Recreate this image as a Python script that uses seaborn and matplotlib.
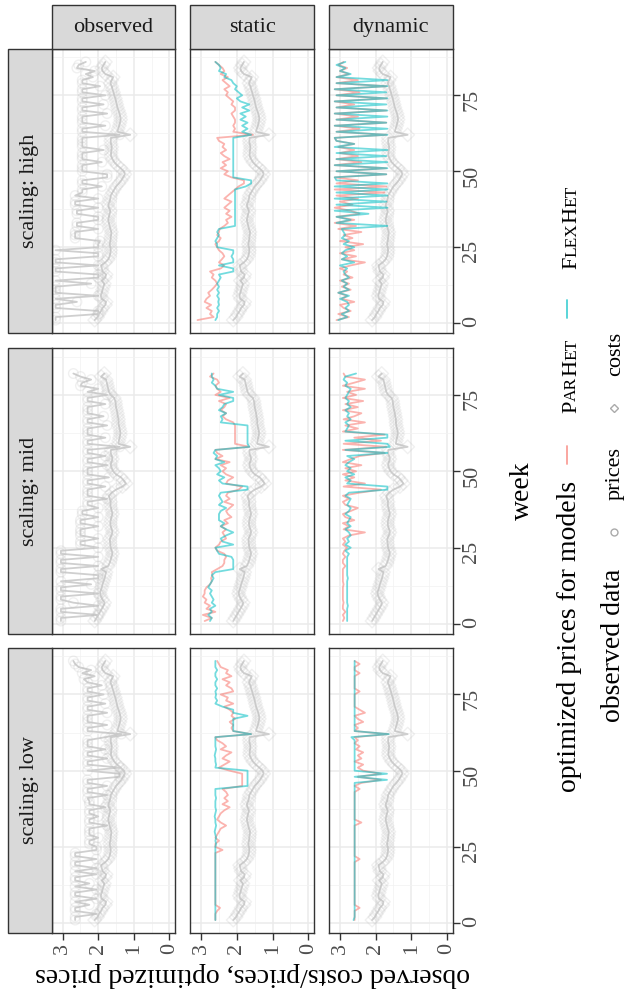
import numpy as np
import pandas as pd
import matplotlib
matplotlib.use("Agg")
import matplotlib.pyplot as plt
import seaborn as sns
from matplotlib.lines import Line2D
from matplotlib.patches import Rectangle

sns.set_theme(style="white")
plt.rcParams["font.family"] = ["Liberation Serif", "DejaVu Serif"]

# ---------------- data ----------------
weeks_high = list(range(1, 87))
weeks_mid = list(range(1, 83))
weeks_low = list(range(1, 87))

costs_high = [2.10, 2.02, 1.98, 1.92, 1.88, 1.80, 1.78, 1.90, 1.93, 1.90,
              1.88, 1.85, 1.83, 1.90, 1.80, 1.78, 1.88, 1.90, 1.92, 1.80,
              1.72, 1.68, 1.66, 1.65, 1.66, 1.68, 1.66, 1.65, 1.64, 1.63,
              1.66, 1.68, 1.70, 1.72, 1.70, 1.68, 1.66, 1.70, 1.72, 1.68,
              1.66, 1.65, 1.60, 1.55, 1.50, 1.42, 1.35, 1.30, 1.25, 1.28,
              1.37, 1.47, 1.55, 1.60, 1.64, 1.64, 1.63, 1.62, 1.64, 1.65,
              1.64, 1.10, 1.46, 1.44, 1.41, 1.39, 1.37, 1.38, 1.40, 1.43,
              1.46, 1.48, 1.50, 1.52, 1.55, 1.57, 1.60, 1.62, 1.66, 1.62,
              1.58, 1.80, 1.88, 1.90, 1.85, 1.80]
costs_low = costs_high
costs_mid = [2.10, 2.05, 2.00, 1.95, 1.90, 1.85, 1.82, 1.88, 1.92, 1.95,
             1.93, 1.90, 1.88, 1.85, 1.82, 1.80, 1.78, 1.92, 1.72, 1.68,
             1.65, 1.63, 1.60, 1.62, 1.65, 1.66, 1.67, 1.67, 1.63, 1.60,
             1.62, 1.65, 1.66, 1.65, 1.63, 1.60, 1.62, 1.64, 1.66, 1.65,
             1.68, 1.70, 1.62, 1.50, 1.32, 1.22, 1.28, 1.36, 1.50, 1.58,
             1.62, 1.65, 1.63, 1.60, 1.62, 1.65, 1.64, 1.10, 1.43, 1.42,
             1.40, 1.38, 1.38, 1.40, 1.42, 1.43, 1.43, 1.45, 1.46, 1.48,
             1.50, 1.51, 1.52, 1.55, 1.65, 1.70, 1.72, 1.74, 1.76, 1.78,
             1.92, 1.83]

prices_high = [3.2, 3.2, 2.0, 2.0, 3.2, 3.2, 2.6, 3.2, 2.0, 3.2,
               3.2, 3.2, 2.2, 3.2, 2.0, 2.0, 3.2, 3.2, 2.0, 3.2,
               3.2, 2.0, 2.0, 3.2, 2.0,
               2.0, 1.95, 2.65, 2.65, 2.65, 2.0, 2.6, 2.6, 2.0, 2.0,
               2.6, 2.6, 2.0, 2.65, 2.65, 2.0, 2.65,
               2.45, 2.45, 1.9, 2.45, 2.45, 1.75, 1.75, 2.45, 2.45, 2.45,
               1.9, 2.45, 2.45, 2.45, 1.85, 2.45, 2.45, 2.45, 2.45, 1.4,
               2.45, 2.45, 1.8, 2.45, 2.45, 2.45, 1.75, 2.45, 2.45, 1.85,
               2.45, 2.45, 1.8, 2.45, 2.45, 1.95, 2.45, 2.45, 2.15, 2.35,
               2.1, 2.6, 2.55, 2.35]
prices_mid = [3.05, 3.05, 2.0, 3.05, 3.05, 2.0, 2.7, 3.05, 3.05, 2.0,
              3.05, 3.05, 2.2, 3.05, 2.0, 2.0, 3.05, 3.05, 2.0, 3.05,
              3.05, 2.0, 3.05, 3.05,
              2.0, 2.5, 2.5, 2.0, 2.5, 2.5, 2.5, 2.0, 2.5, 2.5,
              2.0, 2.45, 2.45, 2.0, 2.3, 2.3,
              1.75, 2.3, 2.3, 2.3, 1.8, 2.3, 2.3, 1.7, 2.3, 2.3,
              2.3, 1.75, 2.3, 2.3, 1.8, 2.3, 2.3,
              1.4,
              2.3, 2.3, 1.8, 2.3, 2.3, 2.3, 1.75, 2.3, 2.3, 1.85,
              2.3, 2.3, 2.3, 1.8, 2.3, 2.3, 1.75, 2.3, 2.0, 2.5,
              2.45, 2.2, 2.5, 2.7]
prices_low = [2.65, 2.65, 2.05, 2.65, 2.65, 2.25, 2.65, 2.05, 2.65, 2.65,
              2.05, 2.65, 2.25, 2.65, 2.65, 2.05, 2.65, 2.05, 2.65, 2.65,
              2.05, 2.65, 2.65, 2.05, 2.05,
              2.25, 2.25, 2.0, 2.25, 2.25, 2.25, 1.75, 2.25, 2.25, 2.0,
              2.25, 2.25, 1.8, 2.25, 2.25, 2.3, 1.75, 2.3, 2.3, 1.75,
              2.3, 2.3, 1.4, 1.4, 2.3, 1.4, 2.3, 2.3, 1.75, 2.3,
              2.3, 1.8, 2.3, 2.3, 2.3, 1.8,
              1.35,
              2.3, 2.3, 1.75, 2.3, 2.3, 2.3, 1.75, 2.3, 2.3, 1.8,
              2.3, 2.3, 1.85, 2.3, 2.3, 1.9, 2.3, 2.4, 2.1, 2.45,
              2.2, 2.55, 2.65, 2.7]

static_par_high = [3.1, 2.65, 2.75, 2.7, 2.85, 2.72, 2.9, 2.85, 2.75, 2.8,
                   2.7, 2.62, 2.55, 2.6, 2.7, 2.65, 2.75, 2.45, 2.35, 2.5,
                   2.42, 2.35, 2.4, 2.5, 2.55, 2.6, 2.5, 2.45, 2.55, 2.5,
                   2.48, 2.35, 2.25, 2.3, 2.15, 2.3, 2.2, 2.35, 2.25, 2.15,
                   2.35, 2.25, 2.15, 2.05, 1.95, 1.8, 1.8, 2.15, 2.35, 2.25,
                   2.45, 2.3, 2.4, 2.2, 2.35, 2.45, 2.3, 2.4, 2.35, 2.5,
                   2.55, 1.55, 2.1, 2.05, 2.1, 2.05, 2.05, 2.1, 2.15, 2.05,
                   2.05, 2.15, 2.1, 2.2, 2.3, 2.25, 2.35, 2.2, 2.3, 2.4,
                   2.25, 2.45, 2.35, 2.4, 2.5, 2.6]
static_flex_high = [2.6, 2.55, 2.55, 2.5, 2.55, 2.5, 2.52, 2.5, 2.55, 2.5,
                    2.55, 2.5, 2.55, 2.5, 2.45, 2.5, 2.1, 2.1, 2.5, 2.1,
                    2.1, 2.15, 2.1, 2.1, 2.55, 2.55, 2.6, 2.55, 2.5, 2.55,
                    2.5, 2.05, 2.05, 2.05, 2.05, 2.05, 2.05, 2.05, 2.05, 2.05,
                    2.05, 2.05, 2.05, 2.05, 1.75, 1.6, 1.6, 2.1, 2.1, 2.1,
                    2.1, 2.1, 2.1, 2.1, 2.1, 2.1, 2.1, 2.1, 2.1, 2.1,
                    2.1, 1.6, 1.85, 1.7, 1.85, 1.7, 1.9, 1.75, 1.9, 1.65,
                    1.85, 1.65, 1.9, 2.0, 1.85, 1.95, 2.05, 2.0, 2.1, 2.15,
                    2.35, 2.3, 2.5, 2.45, 2.5, 2.6]
dyn_par_high = [3.1, 2.75, 3.05, 2.7, 2.9, 3.0, 2.6, 2.95, 2.8, 3.05,
                2.7, 2.95, 2.75, 3.0, 2.65, 2.9, 2.8, 3.0, 2.7, 2.3,
                2.95, 2.55, 3.0, 2.6, 2.85, 2.35, 3.0, 2.65, 2.9, 2.4,
                3.05, 2.55, 3.15, 2.6, 3.1, 2.45, 2.7, 3.15, 2.65, 3.0,
                2.5, 3.1, 1.75, 3.15, 1.7, 3.1, 2.5, 3.15, 1.7, 3.1,
                1.7, 3.15, 2.4, 3.1, 2.5, 3.0, 2.6, 3.05, 2.6, 3.1,
                3.15, 1.7, 3.1, 2.45, 3.15, 1.7, 3.1, 2.5, 3.15, 1.7,
                3.1, 2.6, 3.15, 1.7, 3.1, 2.45, 3.15, 1.7, 3.1, 2.5,
                3.1, 2.75, 3.0, 2.8, 3.05, 2.9]
dyn_flex_high = [3.05, 2.8, 2.95, 2.75, 2.85, 2.75, 2.8, 3.0, 2.75, 3.05,
                 2.75, 2.9, 2.8, 2.95, 2.75, 2.85, 2.9, 2.8, 3.0, 2.6,
                 2.95, 2.8, 2.95, 2.85, 2.6, 2.9, 2.75, 2.95, 2.85, 2.9,
                 2.95, 1.67, 3.1, 2.7, 3.1, 2.2, 3.15, 1.67, 3.1, 1.7,
                 3.15, 1.67, 3.1, 1.67, 3.15, 1.67, 3.1, 3.15, 1.7, 3.1,
                 1.67, 3.15, 1.67, 3.1, 1.7, 3.1, 1.67, 3.15, 2.6, 3.1,
                 3.15, 1.67, 3.1, 1.67, 3.15, 1.7, 3.1, 1.67, 3.15, 1.67,
                 3.1, 1.7, 3.15, 1.67, 3.1, 1.7, 3.15, 1.67, 3.1, 1.67,
                 3.1, 2.7, 3.0, 2.85, 3.1, 2.85]

static_par_mid = [2.9, 2.7, 2.95, 2.6, 2.85, 2.75, 2.9, 2.85, 2.95, 2.9,
                  2.9, 2.85, 2.75, 2.7, 2.72, 2.68, 2.7, 2.55, 2.4, 2.35,
                  2.35, 2.3, 2.35, 2.55, 2.6, 2.5, 2.45, 2.3, 2.35, 2.4,
                  2.3, 2.45, 2.25, 2.35, 2.15, 2.25, 2.3, 2.2, 2.1, 2.35,
                  2.2, 2.3, 2.25, 1.95, 1.85, 2.3, 2.25, 2.1, 2.3, 2.4,
                  2.3, 2.45, 2.2, 2.6, 2.4, 2.55, 2.6, 1.65, 2.05, 2.05,
                  2.05, 2.05, 2.05, 2.05, 2.05, 2.1, 2.3, 2.4, 2.3, 2.45,
                  2.35, 2.3, 2.5, 2.2, 2.6, 2.45, 2.55, 2.6, 2.5, 2.55,
                  2.75, 2.65]
static_flex_mid = [2.75, 2.7, 2.8, 2.7, 2.75, 2.6, 2.7, 2.65, 2.7, 2.75,
                   2.7, 2.8, 2.75, 2.7, 2.65, 2.7, 2.6, 2.1, 2.1, 2.1,
                   2.1, 2.15, 2.5, 2.55, 2.6, 2.1, 2.4, 2.45, 2.3, 2.1,
                   2.3, 2.45, 2.35, 2.5, 2.5, 2.5, 2.45, 2.3, 2.5, 2.4,
                   2.45, 2.5, 2.45, 1.7, 1.7, 2.4, 2.5, 2.35, 2.55, 2.45,
                   2.5, 2.6, 2.35, 2.6, 2.55, 2.65, 2.6, 1.65, 1.7, 1.7,
                   1.7, 1.7, 1.7, 1.7, 1.7, 2.45, 2.4, 2.45, 2.3, 2.5,
                   2.4, 2.35, 2.1, 2.1, 2.5, 2.1, 2.55, 2.6, 2.7, 2.65,
                   2.7, 2.7]
dyn_par_mid = [2.92, 2.88, 2.92, 2.85, 2.92, 2.92, 2.9, 2.92, 2.92, 2.92,
               2.92, 2.92, 2.9, 2.92, 2.92, 2.92, 2.92, 2.92, 2.85, 2.92,
               2.92, 2.85, 2.92, 2.88, 2.8, 2.92, 2.85, 2.92, 2.75, 2.3,
               2.9, 2.75, 2.92, 2.6, 2.85, 2.92, 2.7, 2.5, 2.85, 2.92,
               2.75, 2.92, 2.45, 1.85, 2.9, 2.3, 2.85, 2.6, 2.92, 2.55,
               2.85, 2.4, 2.92, 2.7, 2.45, 1.75, 2.92, 1.7, 2.9, 1.85,
               2.6, 1.75, 2.92, 2.5, 2.85, 2.3, 2.9, 2.6, 2.4, 2.92,
               2.5, 2.85, 2.35, 2.92, 2.55, 2.8, 2.3, 2.92, 2.6, 2.3,
               2.85, 2.9]
dyn_flex_mid = [2.8, 2.8, 2.8, 2.8, 2.8, 2.78, 2.8, 2.8, 2.8, 2.8,
                2.8, 2.8, 2.8, 2.8, 2.78, 2.8, 2.8, 2.8, 2.8, 2.8,
                2.8, 2.8, 2.75, 2.85, 2.7, 2.85, 2.75, 2.8, 2.7, 2.75,
                2.85, 2.7, 2.8, 2.75, 2.7, 2.85, 2.75, 2.7, 2.8, 2.75,
                2.7, 2.85, 2.75, 1.67, 1.67, 2.8, 2.7, 2.85, 2.6, 2.8,
                2.7, 2.85, 2.75, 2.6, 2.8, 1.67, 2.85, 1.6, 1.67, 2.85,
                1.67, 1.67, 2.85, 2.8, 2.75, 2.85, 2.7, 2.8, 2.75, 2.85,
                2.7, 2.8, 2.75, 2.85, 2.8, 2.75, 2.7, 2.85, 2.8, 2.9,
                2.85, 2.55]

static_par_low = [2.6, 2.6, 2.6, 2.55, 2.47, 2.6, 2.6, 2.6, 2.6, 2.6,
                  2.6, 2.6, 2.6, 2.6, 2.6, 2.6, 2.6, 2.6, 2.6, 2.6,
                  2.6, 2.6, 2.6, 2.4, 2.6, 2.6, 2.5, 2.6, 2.55, 2.5,
                  2.45, 2.3, 2.45, 2.55, 2.5, 2.45, 2.35, 2.2, 2.4, 2.25,
                  2.35, 2.25, 2.3, 2.4, 1.85, 1.85, 1.85, 1.85, 1.85, 2.2,
                  2.5, 2.35, 2.2, 2.4, 2.3, 2.15, 2.45, 2.3, 2.4, 2.55,
                  2.6, 1.6, 2.1, 2.15, 2.1, 2.2, 2.05, 2.15, 2.1, 2.2,
                  2.35, 2.1, 2.3, 2.25, 2.45, 2.1, 2.15, 2.3, 2.2, 2.4,
                  2.15, 2.3, 2.25, 2.45, 2.5, 2.55]
static_flex_low = [2.6, 2.6, 2.6, 2.6, 2.6, 2.6, 2.6, 2.6, 2.6, 2.6,
                   2.6, 2.6, 2.6, 2.6, 2.6, 2.6, 2.6, 2.6, 2.6, 2.6,
                   2.6, 2.6, 2.6, 2.6, 2.6, 2.58, 2.6, 2.58, 2.6, 2.62,
                   2.6, 2.58, 2.6, 2.6, 2.62, 2.6, 2.58, 2.6, 2.6, 2.6,
                   2.58, 2.6, 2.6, 2.6, 1.7, 1.7, 1.7, 1.7, 1.7, 1.7,
                   2.6, 2.58, 2.6, 2.6, 2.62, 2.6, 2.58, 2.6, 2.6, 2.6,
                   2.6, 1.6, 2.1, 2.1, 2.1, 2.1, 2.1, 1.7, 2.1, 2.1,
                   2.4, 2.6, 2.55, 2.6, 2.58, 2.6, 2.55, 2.6, 2.6, 2.55,
                   2.6, 2.6, 2.55, 2.6, 2.6, 2.6]
dyn_par_low = [2.59, 2.59, 2.59, 2.59, 2.45, 2.59, 2.59, 2.59, 2.59, 2.59,
               2.59, 2.59, 2.59, 2.59, 2.59, 2.59, 2.59, 2.59, 2.59, 2.59,
               2.45, 2.59, 2.59, 2.59, 2.59, 2.59, 2.59, 2.59, 2.59, 2.59,
               2.59, 2.59, 2.4, 2.59, 2.59, 2.59, 2.59, 2.59, 2.59, 2.59,
               2.59, 2.59, 2.59, 2.45, 2.59, 2.4, 1.85, 2.5, 1.85, 2.35,
               2.5, 2.35, 2.59, 2.4, 2.5, 2.35, 2.55, 2.45, 2.59, 2.5,
               2.59, 1.65, 2.59, 2.5, 2.59, 2.35, 2.5, 2.59, 2.3, 2.45,
               2.59, 2.59, 2.59, 2.59, 2.59, 2.45, 2.59, 2.59, 2.59, 2.59,
               2.59, 2.45, 2.59, 2.59, 2.45, 2.59]
dyn_flex_low = [2.62, 2.59, 2.59, 2.59, 2.59, 2.59, 2.59, 2.59, 2.59, 2.59,
                2.59, 2.59, 2.59, 2.59, 2.59, 2.59, 2.59, 2.59, 2.59, 2.59,
                2.59, 2.59, 2.59, 2.59, 2.59, 2.59, 2.59, 2.59, 2.59, 2.59,
                2.59, 2.59, 2.59, 2.59, 2.59, 2.59, 2.59, 2.59, 2.59, 2.59,
                2.59, 2.59, 2.59, 2.59, 2.59, 2.59, 1.68, 2.59, 1.68, 2.59,
                2.59, 2.59, 2.59, 2.59, 2.59, 2.59, 2.59, 2.59, 2.59, 2.59,
                2.68, 1.63, 2.59, 2.59, 2.59, 2.59, 2.59, 2.59, 2.59, 2.59,
                2.59, 2.59, 2.59, 2.59, 2.59, 2.59, 2.59, 2.59, 2.59, 2.59,
                2.59, 2.59, 2.59, 2.59, 2.59, 2.59]

scalings = ["high", "mid", "low"]
columns = ["observed", "static", "dynamic"]
strip_rows = ["scaling: high", "scaling: mid", "scaling: low"]
price_ticks = [0, 1, 2, 3]
week_ticks = [0, 25, 50, 75]

data = {
    "high": dict(weeks=weeks_high, costs=costs_high, prices=prices_high,
                 static=(static_par_high, static_flex_high),
                 dynamic=(dyn_par_high, dyn_flex_high)),
    "mid": dict(weeks=weeks_mid, costs=costs_mid, prices=prices_mid,
                static=(static_par_mid, static_flex_mid),
                dynamic=(dyn_par_mid, dyn_flex_mid)),
    "low": dict(weeks=weeks_low, costs=costs_low, prices=prices_low,
                static=(static_par_low, static_flex_low),
                dynamic=(dyn_par_low, dyn_flex_low)),
}

# ---------------- style ----------------
W, H = 627, 997
RED = "#F8766D"
CYAN = "#00BFC4"
GREY_LINE = "#CFCFCF"
GREY_PT = "#BDBDBD"
BORDER = "#333333"
TICKC = "#4D4D4D"

fig = plt.figure(figsize=(W / 100, H / 100), dpi=100)
fig.patch.set_facecolor("white")

col_x = [(51.7, 175.0), (190.0, 314.0), (329.0, 452.5)]
row_y = [(49.0, 333.0), (348.3, 634.0), (648.0, 933.0)]


def frac(x0, y0, x1, y1):
    return [x0 / W, 1 - y1 / H, (x1 - x0) / W, (y1 - y0) / H]


def obs_series(ax, weeks, vals, marker):
    df = pd.DataFrame({"week": weeks, "price": vals})
    sns.lineplot(data=df, x="price", y="week", orient="y", sort=True,
                 estimator=None, color=GREY_LINE, lw=1.3, ax=ax, zorder=2)
    sns.scatterplot(data=df, x="price", y="week", marker=marker, s=48,
                    facecolors="none", edgecolor=GREY_PT, linewidth=1.0,
                    alpha=0.22, ax=ax, zorder=2)


for r, sc in enumerate(scalings):
    d = data[sc]
    for c, col in enumerate(columns):
        x0, x1 = col_x[c]
        y0, y1 = row_y[r]
        ax = fig.add_axes(frac(x0, y0, x1, y1))
        ax.set_facecolor("white")
        if col == "observed":
            obs_series(ax, d["weeks"], d["prices"], "o")
            obs_series(ax, d["weeks"], d["costs"], "D")
        else:
            obs_series(ax, d["weeks"], d["costs"], "D")
            par, flex = d[col]
            dfm = pd.DataFrame({"week": d["weeks"] * 2,
                                "price": list(par) + list(flex),
                                "model": ["ParHet"] * len(par) + ["FlexHet"] * len(flex)})
            sns.lineplot(data=dfm, x="price", y="week", hue="model",
                         hue_order=["ParHet", "FlexHet"],
                         palette={"ParHet": RED, "FlexHet": CYAN},
                         orient="y", sort=True, estimator=None, lw=1.3,
                         alpha=0.55, legend=False, ax=ax, zorder=3)
        ax.set_xlim(3.31, -0.16)
        ax.set_ylim(-3.25, 90.25)
        ax.set_xticks(price_ticks)
        ax.set_xticks([0.5, 1.5, 2.5], minor=True)
        ax.set_yticks(week_ticks)
        ax.set_yticks([12.5, 37.5, 62.5, 87.5], minor=True)
        ax.grid(which="major", color="#EBEBEB", lw=1.1, zorder=0)
        ax.grid(which="minor", color="#F2F2F2", lw=0.55, zorder=0)
        ax.set_axisbelow(True)
        ax.set_xlabel("")
        ax.set_ylabel("")
        for sp in ax.spines.values():
            sp.set_color(BORDER)
            sp.set_linewidth(1.0)
        ax.tick_params(which="minor", length=0)
        if r == 2:
            ax.tick_params(axis="x", which="major", bottom=True, length=5,
                           width=1.0, color=BORDER, labelbottom=True,
                           labelsize=16, labelcolor=TICKC, labelrotation=90,
                           pad=2)
        else:
            ax.tick_params(axis="x", which="major", bottom=False,
                           labelbottom=False)
        ax.yaxis.tick_right()
        if c == 2:
            ax.tick_params(axis="y", which="major", right=True, left=False,
                           length=5, width=1.0, color=BORDER,
                           labelright=True, labelleft=False, labelsize=16,
                           labelcolor=TICKC, labelrotation=90, pad=2)
        else:
            ax.tick_params(axis="y", which="major", right=False, left=False,
                           labelright=False, labelleft=False)

# strips
STRIP = "#D9D9D9"
for c, col in enumerate(columns):
    x0, x1 = col_x[c]
    fig.add_artist(Rectangle((x0 / W, 1 - 49.0 / H), (x1 - x0) / W, 44.0 / H,
                             transform=fig.transFigure, facecolor=STRIP,
                             edgecolor=BORDER, lw=1.0, zorder=5))
    fig.text((x0 + x1) / 2 / W, 1 - 27.5 / H, col, ha="center", va="center",
             fontsize=16, color="#1A1A1A", zorder=6)
for r, lab in enumerate(strip_rows):
    y0, y1 = row_y[r]
    fig.add_artist(Rectangle((7.5 / W, 1 - y1 / H), (51.7 - 7.5) / W,
                             (y1 - y0) / H, transform=fig.transFigure,
                             facecolor=STRIP, edgecolor=BORDER, lw=1.0,
                             zorder=5))
    fig.text(29.5 / W, 1 - (y0 + y1) / 2 / H, lab, ha="center", va="center",
             rotation=90, fontsize=16, color="#1A1A1A", zorder=6)

# axis titles
fig.text(522 / W, 1 - 491 / H, "week", rotation=90, ha="center",
         va="center", fontsize=20, color="black")
fig.text(252 / W, 1 - 974 / H, "observed costs/prices, optimized prices",
         rotation=180, ha="center", va="center", fontsize=20, color="black")

# legend (rotated with the rest of the chart)
renderer = fig.canvas.get_renderer()


def run_text(x_base, y_start, parts, size, color="black"):
    y = y_start
    for s, scale in parts:
        fs = size * scale
        fig.text(x_base / W, 1 - y / H, s, rotation=90,
                 rotation_mode="anchor", ha="left", va="baseline",
                 fontsize=fs, color=color)
        tmp = fig.text(0, 0, s, fontsize=fs)
        w = tmp.get_window_extent(renderer).width
        tmp.remove()
        y -= w
    return y


run_text(576, 792, [("optimized prices for models", 1.0)], 20)
fig.add_artist(Line2D([567 / W, 567 / W], [1 - 464 / H, 1 - 446 / H],
                      transform=fig.transFigure, color=RED, lw=1.3, alpha=0.7))
run_text(576, 413, [("P", 1.0), ("AR", 0.78), ("H", 1.0), ("ET", 0.78)], 16)
fig.add_artist(Line2D([567 / W, 567 / W], [1 - 318 / H, 1 - 300 / H],
                      transform=fig.transFigure, color=CYAN, lw=1.3, alpha=0.7))
run_text(576, 269, [("F", 1.0), ("LEX", 0.78), ("H", 1.0), ("ET", 0.78)], 16)

run_text(620, 722, [("observed data", 1.0)], 20)
fig.add_artist(Line2D([614 / W], [1 - 532 / H], transform=fig.transFigure,
                      marker="o", markersize=5, markerfacecolor="none",
                      markeredgecolor="#AAAAAA", lw=0))
run_text(620, 500, [("prices", 1.0)], 16)
fig.add_artist(Line2D([614 / W], [1 - 408 / H], transform=fig.transFigure,
                      marker="D", markersize=4.5, markerfacecolor="none",
                      markeredgecolor="#AAAAAA", lw=0))
run_text(620, 376, [("costs", 1.0)], 16)

fig.savefig("out.png", dpi=100, facecolor="white")
